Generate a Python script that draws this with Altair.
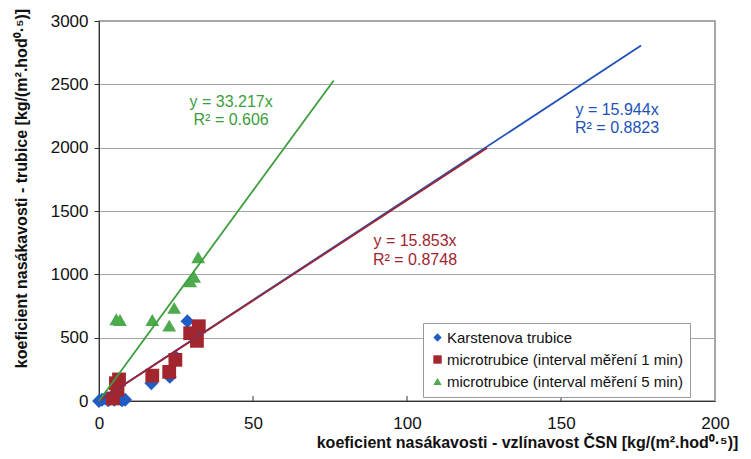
import altair as alt
import pandas as pd

# ---- data ----
blue_x = [0.0, 1.0, 2.0, 3.0, 4.0, 5.0, 6.0, 7.0, 7.5, 8.5, 17.0, 23.0, 24.8, 28.7, 31.5]
blue_y = [0, 10, 20, 5, 30, 10, 25, 15, 5, 10, 140, 190, 350, 630, 520]

red_x = [4.5, 6.0, 5.5, 6.5, 17.3, 22.8, 24.8, 29.6, 31.8, 32.4]
red_y = [20, 90, 140, 170, 200, 230, 325, 535, 475, 590]

green_x = [5.6, 6.8, 17.3, 22.8, 24.4, 29.6, 30.9, 32.2]
green_y = [645, 640, 640, 595, 735, 945, 980, 1135]

series_names = [
    "Karstenova trubice",
    "microtrubice (interval měření 1 min)",
    "microtrubice (interval měření 5 min)",
]
series_colors = ["#1F5DC4", "#A3262E", "#4DAA4D"]
line_colors = ["#2152B8", "#A02530", "#3C9E3C"]
series_shapes = ["diamond", "square", "triangle-up"]

# trendline end points (start at origin)
trend_x_end = [176.0, 126.0, 76.2]
trend_y_end = [2806, 1997, 2531]

# equation labels
eq_text = ["y = 15.944x", "R² = 0.8823", "y = 15.853x", "R² = 0.8748", "y = 33.217x", "R² = 0.606"]
eq_x = [168.2, 168.2, 102.6, 102.6, 42.9, 42.9]
eq_y = [2297, 2155, 1263, 1113, 2360, 2218]
eq_series = [0, 0, 1, 1, 2, 2]

x_ticks = [0, 50, 100, 150, 200]
y_ticks = [0, 500, 1000, 1500, 2000, 2500, 3000]
x_inner_ticks = [50, 100, 150]
inner_tick_len = 40  # in y data units (~5 px)

x_title = "koeficient nasákavosti - vzlínavost ČSN [kg/(m².hod⁰·⁵)]"
y_title = "koeficient nasákavosti - trubice [kg/(m².hod⁰·⁵)]"

# ---- build tables ----
rows = []
for i, (xs_, ys_) in enumerate([(blue_x, blue_y), (red_x, red_y), (green_x, green_y)]):
    for a, b in zip(xs_, ys_):
        rows.append({"x": a, "y": b, "series": series_names[i], "ord": i})
pts = pd.DataFrame(rows)

trend = pd.DataFrame({
    "x": [0.0] * 3, "y": [0.0] * 3,
    "x2": trend_x_end, "y2": trend_y_end,
    "color": line_colors,
})

eqs = pd.DataFrame({
    "x": eq_x, "y": eq_y, "t": eq_text,
    "color": [line_colors[i] for i in eq_series],
})

ticks_df = pd.DataFrame({"x": x_inner_ticks, "y": [0] * len(x_inner_ticks),
                         "y2": [inner_tick_len] * len(x_inner_ticks)})

FONT = "Liberation Sans"
xs = alt.Scale(domain=[0, 200], nice=False)
ys = alt.Scale(domain=[0, 3000], nice=False)

color_scale = alt.Scale(domain=series_names, range=series_colors)
shape_scale = alt.Scale(domain=series_names, range=series_shapes)

points = alt.Chart(pts).mark_point(filled=True, opacity=1, size=190, strokeWidth=0).encode(
    x=alt.X("x:Q", scale=xs, axis=alt.Axis(
        title=x_title, values=x_ticks, grid=False, ticks=False, format="d",
        labelFlush=False, labelPadding=14,
        titleX=428, titleY=41, titleAlign="center", titleBaseline="middle",
    )),
    y=alt.Y("y:Q", scale=ys, axis=alt.Axis(
        title=y_title, values=y_ticks, grid=True, format="d",
        labelFlush=False, labelPadding=6,
        titleX=-78, titleY=167, titleAlign="center", titleBaseline="middle", titleAngle=-90,
    )),
    color=alt.Color("series:N", scale=color_scale, sort=series_names, legend=alt.Legend(
        title=None, orient="none", legendX=324, legendY=302,
        fillColor="white", strokeColor="#9a9a9a", padding=7,
        labelFont=FONT, labelFontSize=15, labelColor="#111", labelLimit=0,
        symbolSize=70, labelOffset=2, rowPadding=6, symbolStrokeWidth=0,
    )),
    shape=alt.Shape("series:N", scale=shape_scale, sort=series_names),
    order=alt.Order("ord:Q"),
)

inner_ticks = alt.Chart(ticks_df).mark_rule(color="#333", strokeWidth=1).encode(
    x="x:Q", y="y:Q", y2="y2:Q",
)

lines = alt.Chart(trend).mark_rule(strokeWidth=1.8).encode(
    x="x:Q", y="y:Q", x2="x2:Q", y2="y2:Q",
    color=alt.Color("color:N", scale=None),
)

texts = alt.Chart(eqs).mark_text(font=FONT, fontSize=16, align="center", baseline="middle").encode(
    x="x:Q", y="y:Q", text="t:N",
    color=alt.Color("color:N", scale=None),
)

chart = alt.layer(points, inner_ticks, lines, texts).properties(
    width=616, height=380,
    padding={"left": 91, "top": 13, "right": 28, "bottom": 50},
    autosize=alt.AutoSizeParams(type="none"),
).configure_view(
    stroke="#8c8c8c", strokeWidth=1.5,
).configure_axis(
    labelFont=FONT, labelFontSize=17, labelColor="#111",
    titleFont=FONT, titleFontSize=16, titleFontWeight="bold", titleColor="#111",
    domainColor="#333", tickColor="#333", tickSize=5, gridColor="#a6a6a6",
)

chart.save("out.html", embed_options={"renderer": "svg", "actions": False})
